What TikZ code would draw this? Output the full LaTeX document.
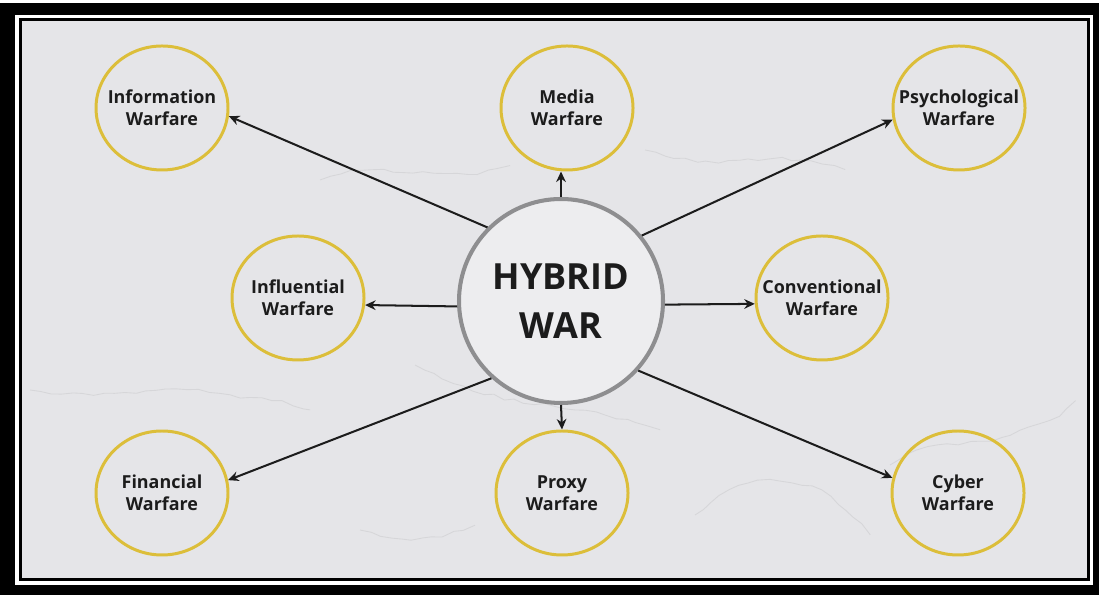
\documentclass[tikz,border=0pt]{standalone}
\usepackage{fontspec}
\setmainfont{Open Sans}
\usetikzlibrary{arrows.meta,shapes.geometric,decorations.pathmorphing}
\definecolor{marble}{HTML}{E5E5E8}
\definecolor{gold}{HTML}{DCBE3A}
\definecolor{ring}{HTML}{8E8E90}
\definecolor{ink}{HTML}{1C1C1C}
\tikzset{>=Stealth,every node/.style={text=ink},
  war/.style={ellipse,draw=gold,line width=1.7pt,minimum width=2.64cm,minimum height=2.48cm,inner xsep=-0.42cm,inner ysep=0pt,align=center,font=\fontsize{10.2}{12.6}\selectfont\bfseries},
  hubnode/.style={circle,draw=ring,line width=2.3pt,fill=marble!70!white,minimum size=4.08cm,align=center,font=\fontsize{20.5}{27.5}\selectfont\bfseries},
  link/.style={line width=1.15pt,draw=ink,-{Stealth[length=6pt,width=5.5pt]}},
  vein/.style={gray,opacity=.14,line width=.5pt,decorate,decoration={random steps,segment length=6pt,amplitude=1pt}}}

\begin{document}
\begin{tikzpicture}
\pgfmathsetseed{7}
% frame
\useasboundingbox (0,0) rectangle (21.98,11.9);
\fill[white] (0,0) rectangle (21.98,11.9);
\fill[black] (0,0) rectangle (21.98,11.84);
\fill[white] (0.3,0.2) rectangle (21.86,11.6);
\draw[line width=0.06cm] (0.4,0.3) rectangle (21.76,11.5);
\fill[marble] (0.43,0.33) rectangle (21.73,11.47);
% marble veins
\draw[vein] (0.6,4.1) to[out=-10,in=170] (4.6,4.0) to[out=-10,in=160] (6.2,3.7);
\draw[vein] (8.3,4.6) to[out=-30,in=170] (11.5,3.7) to[out=-10,in=160] (13.2,3.3);
\draw[vein] (13.9,1.6) to[out=40,in=180] (15.4,2.3) to[out=0,in=130] (17.4,1.2);
\draw[vein] (17.8,2.6) to[out=40,in=200] (20.2,3.2) to[out=20,in=230] (21.5,3.9);
\draw[vein] (6.4,8.3) to[out=20,in=200] (10.2,8.6);
\draw[vein] (12.9,8.9) to[out=-20,in=160] (16.9,8.5);
\draw[vein] (7.2,1.3) to[out=-20,in=200] (9.5,1.4);
% nodes
\node[hubnode] (hub) at (11.22,5.88) {HYBRID\\WAR};
\node[war] (info) at (3.24,9.74) {Information\\Warfare};
\node[war] (media) at (11.34,9.74) {Media\\Warfare};
\node[war] (psych) at (19.18,9.74) {Psychological\\Warfare};
\node[war] (infl) at (5.96,5.94) {Influential\\Warfare};
\node[war] (conv) at (16.44,5.94) {Conventional\\Warfare};
\node[war] (fin) at (3.24,2.04) {Financial\\Warfare};
\node[war] (proxy) at (11.24,2.04) {Proxy\\Warfare};
\node[war] (cyber) at (19.16,2.04) {Cyber\\Warfare};
% arrows
\draw[link] (hub.135) -- (info.-7);
\draw[link] (hub.north) -- (hub.north |- media.south);
\draw[link] (hub.39) -- (psych.190);
\draw[link] (hub.183) -- (infl.-6);
\draw[link] (hub.-2) -- (conv.185);
\draw[link] (hub.228) -- (fin.11);
\draw[link] (hub.south) -- (proxy.north);
\draw[link] (hub.-42) -- (cyber.167);
\end{tikzpicture}
\end{document}
